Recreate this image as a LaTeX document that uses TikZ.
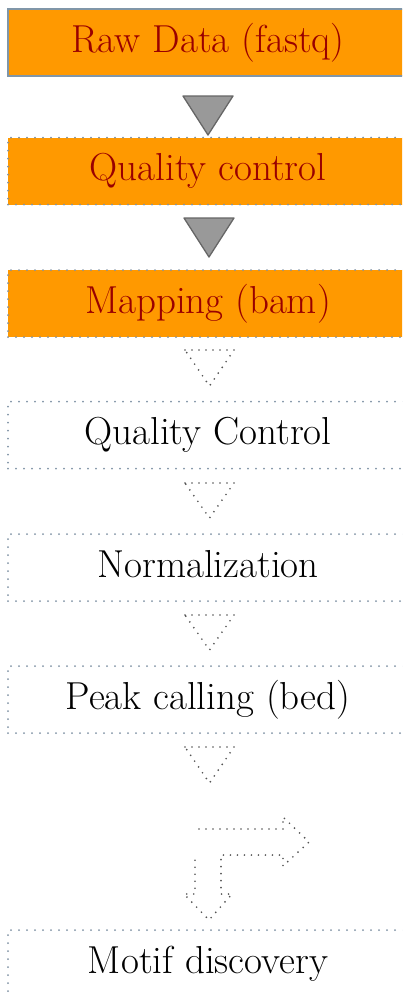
\documentclass[tikz,border=0pt]{standalone}
\usepackage{fontspec}
\definecolor{orangefill}{HTML}{FF9900}
\definecolor{darkred}{HTML}{990000}
\definecolor{edgeblue}{HTML}{8096A8}
\definecolor{dotblue}{HTML}{7F92A4}
\definecolor{trifill}{HTML}{999999}
\definecolor{triedge}{HTML}{666666}
\definecolor{dotgray}{HTML}{555555}
\begin{document}
\begin{tikzpicture}[x=1pt,y=-1pt,
  stepbox/.style={rectangle, minimum width=400pt, minimum height=67pt, inner sep=0pt,
    text height=27pt, text depth=8pt, font=\fontsize{39}{44}\selectfont},
  orangebox/.style={stepbox, fill=orangefill, text=darkred},
  dotedge/.style={draw=dotblue, line width=2pt, dash pattern=on 0pt off 8pt, line cap=round},
  soltri/.style={fill=trifill, draw=triedge, line width=1.3pt, line join=round},
  dottri/.style={draw=dotgray, line width=1.9pt, dash pattern=on 0pt off 7pt, line cap=round}]
\useasboundingbox (0,0) rectangle (402,996);
\clip (0,0) rectangle (402,996);

\node[orangebox, draw=edgeblue, line width=1.6pt] (raw) at (208,42.5) {Raw Data (fastq)};
\node[orangebox, dotedge] (qc1) at (208,171) {Quality control};
\node[orangebox, dotedge] (map) at (208,303.5) {Mapping (bam)};
\node[stepbox, dotedge] (qc2) at (208,435) {Quality Control};
\node[stepbox, dotedge] (norm) at (208,567.5) {Normalization};
\node[stepbox, dotedge] (peak) at (208,699.5) {Peak calling (bed)};
\node[stepbox, dotedge] (motif) at (208,963.5) {Motif discovery};

% solid triangles
\draw[soltri] (183,96) -- (233,96) -- (208,135) -- cycle;
\draw[soltri] (184,218) -- (234,218) -- (209,257) -- cycle;
% dotted triangles
\draw[dottri] (185,350) -- (234,350) -- (209.5,386) -- cycle;
\draw[dottri] (185,483) -- (234,483) -- (209.5,518) -- cycle;
\draw[dottri] (185,615) -- (234,615) -- (209.5,650) -- cycle;
\draw[dottri] (185,747) -- (234,747) -- (209.5,783) -- cycle;

% bent arrow
\draw[dottri] (199,829) -- (283,829) -- (283,817) -- (309,842) -- (283,866) -- (283,855)
  -- (221,855) -- (221,894) -- (232,894) -- (209,920) -- (184,894) -- (195,894) -- (195,857);
\end{tikzpicture}
\end{document}
